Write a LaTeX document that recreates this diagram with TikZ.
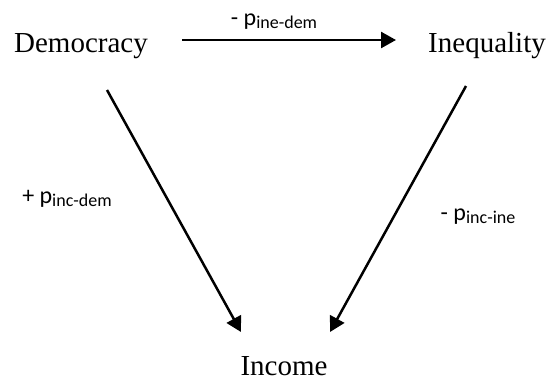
\documentclass[tikz,border=0pt]{standalone}
\usepackage{fontspec}
\setmainfont{Liberation Serif}
\newfontfamily\labfont{Carlito}
\usetikzlibrary{shapes,arrows.meta,positioning}

\newcommand{\psub}[2]{#1~p{\fontsize{18}{18}\selectfont\raisebox{-3pt}{#2}}}

\begin{document}
\begin{tikzpicture}[x=1pt,y=-1pt,
  var/.style={font=\fontsize{29}{29}\selectfont, inner sep=0pt, anchor=base},
  coef/.style={font=\labfont\fontsize{24}{24}\selectfont, inner sep=0pt, anchor=base},
  link/.style={line width=2.5pt, -{Triangle[length=15pt,width=16pt]}}]
\useasboundingbox (0,0) rectangle (548,384);
% variables
\node[var] (dem) at (81,52) {Democracy};
\node[var] (ine) at (487,52) {Inequality};
\node[var] (inc) at (284,375) {Income};

% arrow ends
\coordinate (dem-r) at (182,40);
\coordinate (ine-l) at (396,40);
\coordinate (dem-b) at (107,90);
\coordinate (inc-l) at (241,332);
\coordinate (ine-b) at (466,86);
\coordinate (inc-r) at (330,332);

\draw[link] (dem-r) -- (ine-l);
\draw[link] (dem-b) -- (inc-l);
\draw[link] (ine-b) -- (inc-r);

% coefficients
\node[coef] (p-ine-dem) at (274,25) {\psub{-}{ine-dem}};
\node[coef] (p-inc-dem) at (67,203) {\psub{+}{inc-dem}};
\node[coef] (p-inc-ine) at (478,220) {\psub{-}{inc-ine}};
\end{tikzpicture}
\end{document}
